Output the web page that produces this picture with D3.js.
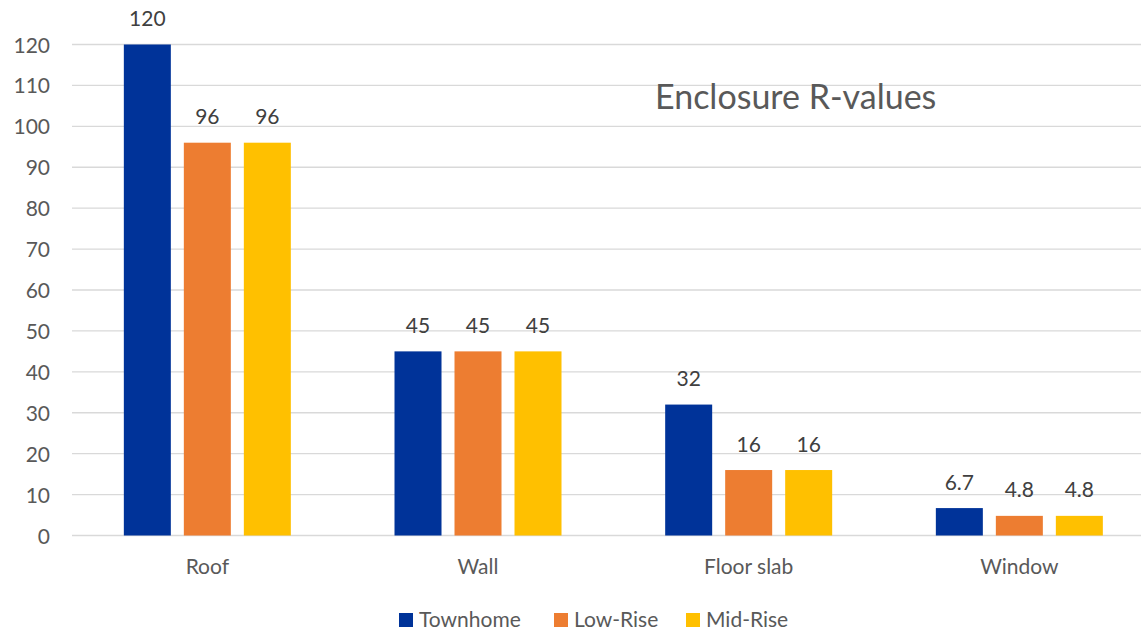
<!DOCTYPE html>
<html><head><meta charset="utf-8">
<script src="https://cdn.jsdelivr.net/npm/d3@7"></script>
<style>body{margin:0;background:#fff;} text{font-family:Lato,"Open Sans",sans-serif;}</style>
</head><body>
<svg id="c" width="1141" height="631"></svg>
<script>
const categories = ["Roof", "Wall", "Floor slab", "Window"];
const seriesNames = ["Townhome", "Low-Rise", "Mid-Rise"];
const townhome = [120, 45, 32, 6.7];
const lowRise = [96, 45, 16, 4.8];
const midRise = [96, 45, 16, 4.8];
const yTicks = [0,10,20,30,40,50,60,70,80,90,100,110,120];
const colors = ["#003399", "#ED7D31", "#FFC000"];
const title = "Enclosure R-values";

const FONT = 'Lato,"Open Sans",sans-serif';
const seriesValues = [townhome, lowRise, midRise];
const svg = d3.select("#c");
const x0 = 72, x1 = 72 + 4*270.67, yTop = 44.5, yBot = 535.5;
const x = d3.scaleBand().domain(categories).range([x0, x1]);
const xs = d3.scaleBand().domain(seriesNames).range([0, 167]).paddingInner(13/60).paddingOuter(0);
const y = d3.scaleLinear().domain([0,120]).range([yBot, yTop]);

// gridlines
svg.append("g").selectAll("line").data(yTicks).join("line")
  .attr("x1", x0).attr("x2", 1141)
  .attr("y1", d=>y(d)).attr("y2", d=>y(d))
  .attr("stroke", "#d9d9d9").attr("stroke-width", 1.3);

// y axis labels
const yAxis = d3.axisLeft(y).tickValues(yTicks).tickSize(0).tickPadding(0);
const ya = svg.append("g").attr("transform", "translate(50,0)").call(yAxis);
ya.select(".domain").remove();
ya.selectAll("text").attr("font-size", 21).attr("fill", "#595959").attr("dy", "0.36em")
  .style("font-family", FONT);

// x axis labels
const xAxis = d3.axisBottom(x).tickSize(0).tickPadding(0);
const xa = svg.append("g").attr("transform", "translate(0,558)").call(xAxis);
xa.select(".domain").remove();
xa.selectAll("text").attr("font-size", 21).attr("fill", "#595959").attr("dy", "0.78em")
  .style("font-family", FONT);

// bars
const groups = svg.append("g").selectAll("g").data(categories).join("g")
  .attr("transform", d => `translate(${x(d) + x.bandwidth()/2 - 83.5},0)`);
groups.each(function(cat, ci){
  const g = d3.select(this);
  seriesNames.forEach((s, si) => {
    const v = seriesValues[si][ci];
    g.append("rect")
      .attr("x", xs(s)).attr("width", xs.bandwidth())
      .attr("y", y(v)).attr("height", y(0) - y(v))
      .attr("fill", colors[si]);
    g.append("text")
      .attr("x", xs(s) + xs.bandwidth()/2).attr("y", y(v) - 18.5)
      .attr("text-anchor", "middle").attr("font-size", 21).attr("fill", "#404040")
      .text(v);
  });
});

// title
svg.append("text").attr("x", 655).attr("y", 109)
  .attr("font-size", 34).attr("fill", "#595959").text(title);

// legend
const legX = [399, 554, 686];
const leg = svg.append("g").selectAll("g").data(seriesNames).join("g")
  .attr("transform", (d,i) => `translate(${legX[i]},613)`);
leg.append("rect").attr("width", 14).attr("height", 14).attr("fill", (d,i)=>colors[i]);
leg.append("text").attr("x", 20).attr("y", 14).attr("font-size", 21).attr("fill", "#595959").text(d=>d);
</script>
</body></html>
